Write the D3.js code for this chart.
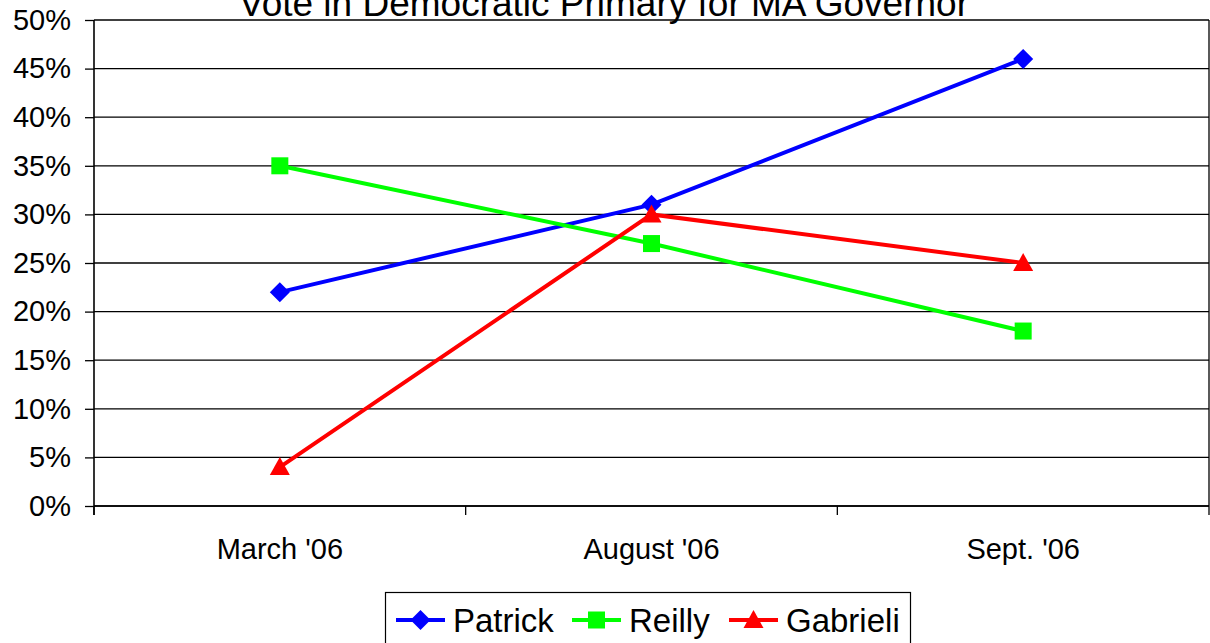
<!DOCTYPE html>
<html><head><meta charset="utf-8">
<script src="https://cdn.jsdelivr.net/npm/d3@7"></script>
<style>body{margin:0;background:#fff;}svg{display:block;font-family:Arial,"Liberation Sans",sans-serif;}</style>
</head><body>
<svg id="c" width="1210" height="643"></svg>
<script>
const categories = ["March '06", "August '06", "Sept. '06"];
const patrick = [22, 31, 46];
const reilly = [35, 27, 18];
const gabrieli = [4, 30, 25];
const yTicks = [0, 5, 10, 15, 20, 25, 30, 35, 40, 45, 50];
const seriesNames = ["Patrick", "Reilly", "Gabrieli"];
const title = "Vote in Democratic Primary for MA Governor";

const series = [
  {name: seriesNames[0], values: patrick, color: "#0000FF", shape: "diamond"},
  {name: seriesNames[1], values: reilly, color: "#00FF00", shape: "square"},
  {name: seriesNames[2], values: gabrieli, color: "#FF0000", shape: "triangle"}
];

const svg = d3.select("#c");
const L = 94, R = 1209, T = 20, B = 506;
const x = d3.scaleBand().domain(categories).range([L, R]);
const y = d3.scaleLinear().domain([0, 50]).range([B, T]);

// gridlines
svg.append("g").selectAll("line").data(yTicks).join("line")
  .attr("x1", L).attr("x2", R).attr("y1", d => y(d)).attr("y2", d => y(d))
  .attr("stroke", "#000").attr("stroke-width", 1.3);

// right border
svg.append("line").attr("x1", R).attr("x2", R).attr("y1", T).attr("y2", B)
  .attr("stroke", "#000").attr("stroke-width", 1.3);

// y axis
const yAxis = d3.axisLeft(y).tickValues(yTicks).tickFormat(d => d + "%").tickSize(9).tickPadding(14);
const gy = svg.append("g").attr("transform", `translate(${L},0)`).call(yAxis);
gy.select(".domain").attr("stroke", "#000").attr("stroke-width", 1.6).attr("d", `M0,${T}V${B + 9}`);
gy.selectAll(".tick line").attr("stroke", "#000").attr("stroke-width", 1.3);
gy.selectAll("text").attr("font-size", "29px").attr("fill", "#000").attr("font-family", "Arial, 'Liberation Sans', sans-serif");

// x axis
const xAxis = d3.axisBottom(x).tickSize(0).tickPadding(0);
const gx = svg.append("g").attr("transform", `translate(0,${B})`).call(xAxis);
gx.select(".domain").attr("stroke", "#000").attr("stroke-width", 1.6).attr("d", `M${L},0H${R}`);
gx.selectAll("text").attr("font-size", "29px").attr("fill", "#000").attr("dy", null).attr("y", 53)
  .attr("font-family", "Arial, 'Liberation Sans', sans-serif");
// band boundary ticks
const bounds = categories.map(c => x(c)).concat([x(categories[categories.length - 1]) + x.bandwidth()]);
gx.selectAll("line.bt").data(bounds).join("line").attr("class", "bt")
  .attr("x1", d => d).attr("x2", d => d).attr("y1", 0).attr("y2", 9)
  .attr("stroke", "#000").attr("stroke-width", 1.3);

const cx = c => x(c) + x.bandwidth() / 2;

function marker(g, shape, color, px, py) {
  if (shape === "diamond") {
    g.append("path").attr("d", `M${px},${py - 10}L${px + 10},${py}L${px},${py + 10}L${px - 10},${py}Z`).attr("fill", color);
  } else if (shape === "square") {
    g.append("rect").attr("x", px - 8.5).attr("y", py - 8.5).attr("width", 17).attr("height", 17).attr("fill", color);
  } else {
    g.append("path").attr("d", `M${px},${py - 10}L${px + 10},${py + 8}L${px - 10},${py + 8}Z`).attr("fill", color);
  }
}

const line = d3.line().x((d, i) => cx(categories[i])).y(d => y(d));
series.forEach(s => {
  const g = svg.append("g");
  g.append("path").datum(s.values).attr("d", line).attr("fill", "none")
    .attr("stroke", s.color).attr("stroke-width", 4);
  s.values.forEach((v, i) => marker(g, s.shape, s.color, cx(categories[i]), y(v)));
});

// title
svg.append("text").attr("x", 604).attr("y", 16).attr("text-anchor", "middle")
  .attr("font-size", "37px").attr("fill", "#000").text(title);

// legend
const lg = svg.append("g");
lg.append("rect").attr("x", 385.5).attr("y", 592.5).attr("width", 525).attr("height", 60)
  .attr("fill", "#fff").attr("stroke", "#000").attr("stroke-width", 1.2);
const legendX = [396, 572, 729];
series.forEach((s, i) => {
  const lx = legendX[i], ly = 620;
  lg.append("line").attr("x1", lx).attr("x2", lx + 49).attr("y1", ly).attr("y2", ly)
    .attr("stroke", s.color).attr("stroke-width", 4);
  marker(lg, s.shape, s.color, lx + 24.5, ly);
  lg.append("text").attr("x", lx + 57).attr("y", ly + 12).attr("font-size", "33px")
    .attr("fill", "#000").text(s.name);
});
</script>
</body></html>
